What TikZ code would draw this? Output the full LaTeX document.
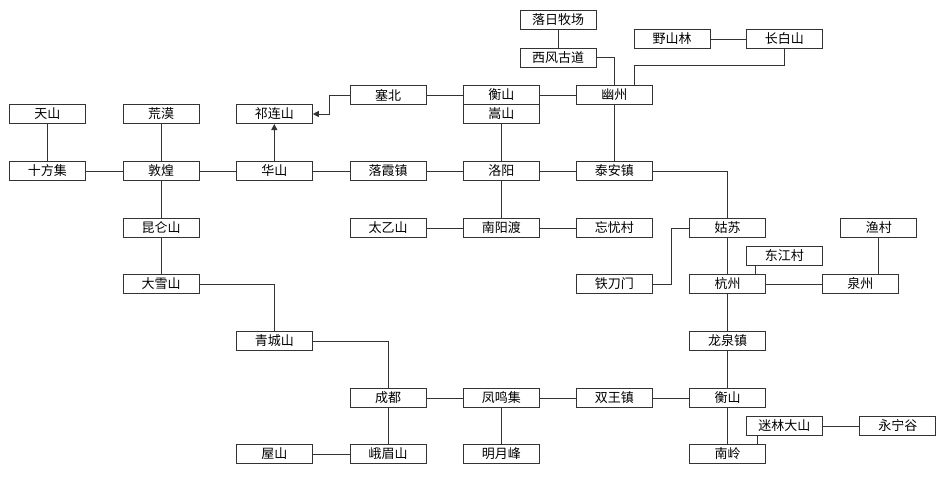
\documentclass[tikz,border=0pt]{standalone}
\usepackage{fontspec}
\setmainfont{Noto Sans CJK SC}
\usepackage{xcolor}
\usepackage{tikz}
\usetikzlibrary{arrows.meta}
\definecolor{boxline}{HTML}{333333}

\begin{document}
\begin{tikzpicture}[x=0.75pt,y=-0.75pt,>={Triangle[length=4.5pt,width=4.5pt]},
  every node/.style={font=\fontsize{9.75}{11}\selectfont,text=black},
  place/.style={draw=boxline,line width=.75pt,minimum width=57pt,minimum height=14.25pt,inner sep=0pt},
  link/.style={draw=boxline,line width=.75pt}]
\useasboundingbox (0,0) rectangle (949,482);
\node[place] (tianshan) at (47.3,114) {天山};
\node[place] (shifang) at (47.3,171) {十方集};
\node[place] (huangmo) at (161,114) {荒漠};
\node[place] (dunhuang) at (161,171) {敦煌};
\node[place] (kunlun) at (161,228) {昆仑山};
\node[place] (daxue) at (161,284) {大雪山};
\node[place] (qilian) at (274.3,114) {祁连山};
\node[place] (huashan) at (274.3,171) {华山};
\node[place] (qingcheng) at (274.3,341) {青城山};
\node[place] (wushan) at (274.3,454) {屋山};
\node[place] (saibei) at (388,95) {塞北};
\node[place] (luoxia) at (388,171) {落霞镇};
\node[place] (taiyi) at (388,228) {太乙山};
\node[place] (chengdu) at (388,398) {成都};
\node[place] (emei) at (388,454) {峨眉山};
\node[place] (hengbei) at (501.3,95) {衡山};
\node[place] (songshan) at (501.3,114) {嵩山};
\node[place] (luoyang) at (501.3,171) {洛阳};
\node[place] (nanyang) at (501.3,228) {南阳渡};
\node[place] (fengming) at (501.3,398) {凤鸣集};
\node[place] (mingyue) at (501.3,454) {明月峰};
\node[place] (luori) at (558,20) {落日牧场};
\node[place] (xifeng) at (558,57.5) {西风古道};
\node[place] (youzhou) at (614.3,95) {幽州};
\node[place] (taian) at (614.3,171) {泰安镇};
\node[place] (wangyou) at (614.3,228) {忘忧村};
\node[place] (tiedao) at (614.3,284) {铁刀门};
\node[place] (shuangwang) at (614.3,398) {双王镇};
\node[place] (yeshan) at (672,39) {野山林};
\node[place] (changbai) at (784.3,39) {长白山};
\node[place] (gusu) at (727.5,228) {姑苏};
\node[place] (hangzhou) at (727.5,284) {杭州};
\node[place] (longquan) at (727.5,341) {龙泉镇};
\node[place] (hengnan) at (727.5,398) {衡山};
\node[place] (nanling) at (727.5,454) {南岭};
\node[place] (dongjiang) at (784.3,256) {东江村};
\node[place] (milin) at (784.3,426) {迷林大山};
\node[place] (quanzhou) at (860.3,284) {泉州};
\node[place] (yucun) at (878.8,228) {渔村};
\node[place] (yongning) at (897.8,426) {永宁谷};
\draw[link] (tianshan) -- (shifang);
\draw[link] (shifang) -- (dunhuang);
\draw[link] (huangmo) -- (dunhuang);
\draw[link] (dunhuang) -- (huashan);
\draw[link] (dunhuang) -- (kunlun);
\draw[link] (kunlun) -- (daxue);
\draw[link] (daxue.east) -| (qingcheng.north);
\draw[link] (qingcheng.east) -| (chengdu.north);
\draw[link,->] (huashan) -- (qilian);
\draw[link,->] (saibei.west) -- ++(-20,0) |- (qilian.east);
\draw[link] (huashan) -- (luoxia);
\draw[link] (luoxia) -- (luoyang);
\draw[link] (luoyang) -- (taian);
\draw[link] (saibei) -- (hengbei);
\draw[link] (hengbei) -- (youzhou);
\draw[link] (songshan) -- (luoyang);
\draw[link] (luori) -- (xifeng);
\draw[link] (xifeng.east) -| (youzhou.north);
\draw[link] (yeshan) -- (changbai);
\draw[link] (changbai.south) -- ++(0,16) -| ([xshift=15pt]youzhou.north);
\draw[link] (youzhou) -- (taian);
\draw[link] (taian.east) -| (gusu.north);
\draw[link] (luoyang) -- (nanyang);
\draw[link] (taiyi) -- (nanyang);
\draw[link] (nanyang) -- (wangyou);
\draw[link] (gusu.west) -- ++(-18,0) |- (tiedao.east);
\draw[link] (gusu) -- (hangzhou);
\draw[link] ([xshift=7.5pt]dongjiang.south west) -- ([xshift=7.5pt]dongjiang.south west |- hangzhou.north);
\draw[link] (hangzhou) -- (quanzhou);
\draw[link] (yucun.south) -- (yucun.south |- quanzhou.north);
\draw[link] (hangzhou) -- (longquan);
\draw[link] (longquan) -- (hengnan);
\draw[link] (hengnan) -- (nanling);
\draw[link] (hengnan) -- (shuangwang);
\draw[link] (shuangwang) -- (fengming);
\draw[link] (fengming) -- (chengdu);
\draw[link] (fengming) -- (mingyue);
\draw[link] (milin) -- (yongning);
\draw[link] ([xshift=8.5pt]milin.south west) -- ([xshift=8.5pt]milin.south west |- nanling.north);
\draw[link] (chengdu) -- (emei);
\draw[link] (wushan) -- (emei);
\end{tikzpicture}
\end{document}
